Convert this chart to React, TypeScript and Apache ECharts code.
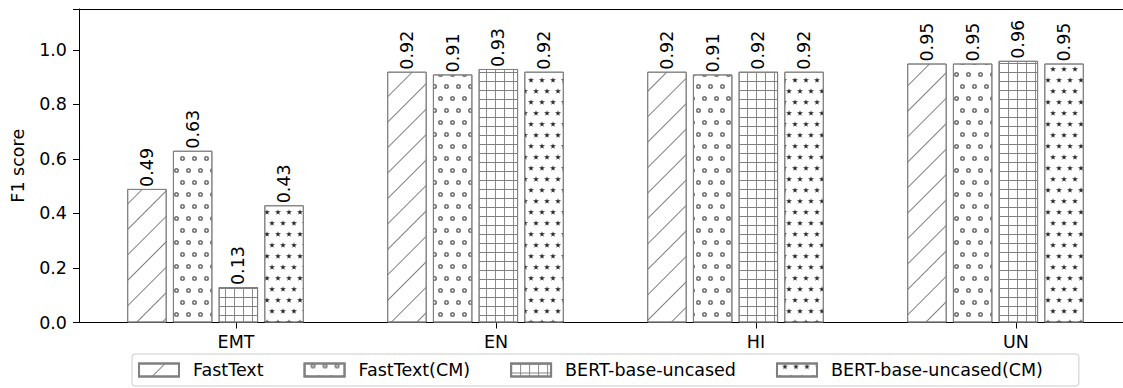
import React, { useEffect, useRef } from "react";
import * as echarts from "echarts";

const categories = ["EMT", "EN", "HI", "UN"];
const seriesNames = ["FastText", "FastText(CM)", "BERT-base-uncased", "BERT-base-uncased(CM)"];
const fastText = [0.49, 0.92, 0.92, 0.95];
const fastTextCM = [0.63, 0.91, 0.91, 0.95];
const bertBase = [0.13, 0.93, 0.92, 0.96];
const bertBaseCM = [0.43, 0.92, 0.92, 0.95];
const yLabelTicks = [0, 0.2, 0.4, 0.6, 0.8, 1.0];

const FONT = "DejaVu Sans";
const EDGE = "#808080";

const ringPath =
  "path://M0,50a50,50 0 1,0 100,0a50,50 0 1,0 -100,0Z M32,50a18,18 0 1,1 36,0a18,18 0 1,1 -36,0Z";
const starPath =
  "path://M50,0 L61,35 L98,35 L68,57 L79,91 L50,70 L21,91 L32,57 L2,35 L39,35Z";
const gridCellPath = "path://M0,0H10V1H1V10H0Z";

const decals: any[] = [
  {
    symbol: "rect",
    symbolSize: 1,
    dashArrayX: [1, 0],
    dashArrayY: [1, 17],
    rotation: -Math.PI / 4,
    color: EDGE,
  },
  {
    symbol: ringPath,
    symbolSize: 1,
    dashArrayX: [
      [5, 7],
      [0, 6, 5, 1],
    ],
    dashArrayY: [5, 7],
    color: "#707070",
  },
  {
    symbol: gridCellPath,
    symbolSize: 1,
    dashArrayX: [9, 0],
    dashArrayY: [9, 0],
    color: EDGE,
  },
  {
    symbol: starPath,
    symbolSize: 1,
    dashArrayX: [
      [6, 5],
      [0, 5, 6, 0],
    ],
    dashArrayY: [6, 5],
    color: "#2a2a2a",
  },
];

const seriesData = [fastText, fastTextCM, bertBase, bertBaseCM];

export default function App() {
  const ref = useRef<HTMLDivElement>(null);
  useEffect(() => {
    if (!ref.current) return;
    document.documentElement.style.overflow = "hidden";
    document.body.style.overflow = "hidden";
    document.body.style.margin = "0";
    const chart = echarts.init(ref.current, undefined, { renderer: "svg" });
    const gridTop = 9;
    const gridHeight = 313.5;
    const gridBase = { top: gridTop, height: gridHeight, outerBoundsMode: "none", containLabel: false };
    const blackLine = { show: true, lineStyle: { color: "#000", width: 1 } };
    const option: any = {
      animation: false,
      backgroundColor: "#fff",
      textStyle: { fontFamily: FONT },
      grid: [
        { ...gridBase, left: 85.5, width: 1040 },
        { ...gridBase, left: 79, width: 1120 },
        { ...gridBase, left: 106, width: 1040 },
      ],
      xAxis: [
        { type: "category", gridIndex: 0, data: categories, show: false },
        {
          type: "value",
          gridIndex: 1,
          min: 0,
          max: 1,
          position: "bottom",
          axisLine: blackLine,
          axisTick: { show: false },
          axisLabel: { show: false },
          splitLine: { show: false },
        },
        {
          type: "category",
          gridIndex: 2,
          data: categories,
          axisLine: { show: false },
          axisTick: { show: true, alignWithLabel: true, length: 6, lineStyle: { color: "#000" } },
          axisLabel: { color: "#000", fontSize: 17.5, fontFamily: FONT, margin: 10 },
          splitLine: { show: false },
        },
        {
          type: "value",
          gridIndex: 1,
          min: 0,
          max: 1,
          position: "top",
          axisLine: blackLine,
          axisTick: { show: false },
          axisLabel: { show: false },
          splitLine: { show: false },
        },
      ],
      yAxis: [
        { type: "value", gridIndex: 0, min: 0, max: 1.15, show: false },
        {
          type: "value",
          gridIndex: 1,
          min: 0,
          max: 1.15,
          interval: 0.2,
          name: "F1 score",
          nameLocation: "middle",
          nameGap: 52,
          nameTextStyle: { color: "#000", fontSize: 17.5, fontFamily: FONT },
          axisLine: blackLine,
          axisTick: { show: true, length: 6, lineStyle: { color: "#000" } },
          splitLine: { show: false },
          axisLabel: {
            color: "#000",
            fontSize: 17.5,
            fontFamily: FONT,
            margin: 12,
            formatter: (v: number) =>
              yLabelTicks.some((t) => Math.abs(t - v) < 1e-6) ? v.toFixed(1) : "",
          },
        },
        { type: "value", gridIndex: 2, min: 0, max: 1.15, show: false },
      ],
      legend: {
        left: 132,
        top: 354,
        orient: "horizontal",
        data: seriesNames,
        itemWidth: 40,
        itemHeight: 13,
        itemGap: 40,
        padding: [6, 36, 6, 6],
        borderColor: "#cccccc",
        borderWidth: 1,
        borderRadius: 3,
        backgroundColor: "#fff",
        icon: "rect",
        textStyle: {
          color: "#000",
          fontSize: 17.5,
          fontFamily: FONT,
          lineHeight: 20,
          padding: [0, 0, 0, 9],
        },
      },
      series: seriesNames.map((name, i) => ({
        name,
        type: "bar",
        xAxisIndex: 0,
        yAxisIndex: 0,
        data: seriesData[i],
        barWidth: 39.5,
        barGap: "15.7%",
        itemStyle: {
          color: "#fff",
          borderColor: EDGE,
          borderWidth: 1,
          decal: decals[i],
        },
        label: {
          show: true,
          position: "top",
          rotate: 90,
          align: "left",
          verticalAlign: "middle",
          distance: 2,
          color: "#000",
          fontSize: 17.5,
          fontFamily: FONT,
          formatter: (p: any) => Number(p.value).toFixed(2),
        },
      })),
    };
    chart.setOption(option);
    return () => chart.dispose();
  }, []);
  return (
    <div
      ref={ref}
      style={{ position: "absolute", left: 0, top: 0, width: 1123, height: 388 }}
    />
  );
}
